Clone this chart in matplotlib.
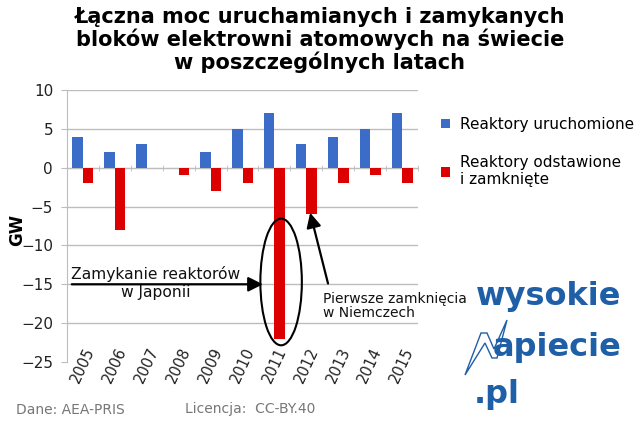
import matplotlib
matplotlib.use("Agg")
import matplotlib.pyplot as plt
import numpy as np
from matplotlib.patches import Ellipse, Polygon

YEARS = ["2005", "2006", "2007", "2008", "2009", "2010",
         "2011", "2012", "2013", "2014", "2015"]
STARTED = [4, 2, 3, 0, 2, 5, 7, 3, 4, 5, 7]
CLOSED = [-2, -8, 0, -1, -3, -2, -22, -6, -2, -1, -2]

BLUE = "#3a6cc8"
RED = "#dd0000"
LOGO = "#1f5fa8"
GRID = "#bdbdbd"

W, H = 640, 428


def fx(px):
    return px / W


def fy(py):
    return 1 - py / H


fig = plt.figure(figsize=(6.4, 4.28), dpi=100)
ax = fig.add_axes([fx(67), fy(362), fx(418) - fx(67), fy(90) - fy(362)])

x = np.arange(len(YEARS))
bw = 0.33
b1 = ax.bar(x - bw / 2, STARTED, bw, color=BLUE, zorder=3)
b2 = ax.bar(x + bw / 2, CLOSED, bw, color=RED, zorder=3)

ax.set_xlim(-0.5, len(YEARS) - 0.5)
ax.set_ylim(-25, 10)
ax.set_yticks(np.arange(-25, 11, 5))
ax.tick_params(axis="y", labelsize=11, length=4, color=GRID,
               labelcolor="#222222", pad=6)
ax.yaxis.grid(True, color=GRID, lw=1, zorder=0)
ax.get_ygridlines()[0].set_visible(False)
for s in ["top", "right"]:
    ax.spines[s].set_visible(False)
ax.spines["left"].set_color(GRID)
ax.spines["bottom"].set_position(("data", 0))
ax.spines["bottom"].set_color(GRID)
ax.set_xticks([])
ax.set_xticks(np.arange(-0.5, len(YEARS), 1), minor=True)
ax.tick_params(axis="x", which="minor", length=4, color=GRID,
               direction="inout", labelbottom=False)

sec = ax.secondary_xaxis("bottom")
sec.set_xticks(x, YEARS)
sec.spines["bottom"].set_visible(False)
sec.tick_params(length=0, pad=-12, labelsize=10.5, labelcolor="#222222")
for lab in sec.get_xticklabels():
    lab.set_rotation(65)
    lab.set_va("top")
    lab.set_ha("center")

ax.set_ylabel("GW", fontsize=12, fontweight="bold", va="center")
ax.yaxis.set_label_coords((17 - 67) / (418 - 67), 0.485)

# annotations
ax.annotate("", xy=(5.64, -15), xytext=(-0.35, -15),
            arrowprops=dict(arrowstyle="-|>", color="black", lw=1.6,
                            mutation_scale=22, shrinkA=0, shrinkB=0),
            zorder=5)
ax.text(2.29, -14.85, "Zamykanie reaktorów\nw Japonii", ha="center",
        va="center", fontsize=11.2, color="#111111", linespacing=1.3,
        zorder=4)
ax.add_patch(Ellipse((6.21, -14.7), 1.3, 16.3, fill=False, lw=1.5,
                     ec="black", zorder=5))
ax.annotate("", xy=(7.12, -5.8), xytext=(7.68, -14.9),
            arrowprops=dict(arrowstyle="-|>", color="black", lw=1.6,
                            mutation_scale=22, shrinkA=0, shrinkB=0),
            zorder=5)
ax.text(7.52, -17.8, "Pierwsze zamknięcia\nw Niemczech", ha="left",
        va="center", fontsize=10, color="#111111", linespacing=1.0,
        zorder=4)

fig.text(0.5, fy(40), "Łączna moc uruchamianych i zamykanych\n"
         "bloków elektrowni atomowych na świecie\nw poszczególnych latach",
         ha="center", va="center", fontsize=15, fontweight="bold",
         linespacing=1.1)

fig.legend([b1, b2], ["Reaktory uruchomione",
                      "Reaktory odstawione\ni zamknięte"],
           loc="upper left", bbox_to_anchor=(fx(441), fy(117)),
           frameon=False, fontsize=11, handlelength=0.6, handleheight=0.6,
           handletextpad=0.65, labelspacing=1.5, borderpad=0,
           borderaxespad=0)

# logo
fig.text(fx(476), fy(305), "wysokie", color=LOGO, fontsize=23,
         fontweight="bold", va="baseline", ha="left")
fig.text(fx(493), fy(356), "apiecie", color=LOGO, fontsize=23,
         fontweight="bold", va="baseline", ha="left")
fig.text(fx(474), fy(403), ".pl", color=LOGO, fontsize=23,
         fontweight="bold", va="baseline", ha="left")
bolt = [(465, 375), (481, 333), (487, 333), (494, 349), (507, 320),
        (497, 358), (492, 358), (485, 343)]
fig.add_artist(Polygon([(fx(a), fy(b)) for a, b in bolt], closed=True,
                       fill=False, ec=LOGO, lw=1.0,
                       transform=fig.transFigure))

fig.text(fx(16), fy(410), "Dane: AEA-PRIS", color="#777777", fontsize=10,
         va="center", ha="left")
fig.text(fx(185), fy(409), "Licencja:  CC-BY.40", color="#777777",
         fontsize=10, va="center", ha="left")

fig.savefig("out.png", dpi=100)
